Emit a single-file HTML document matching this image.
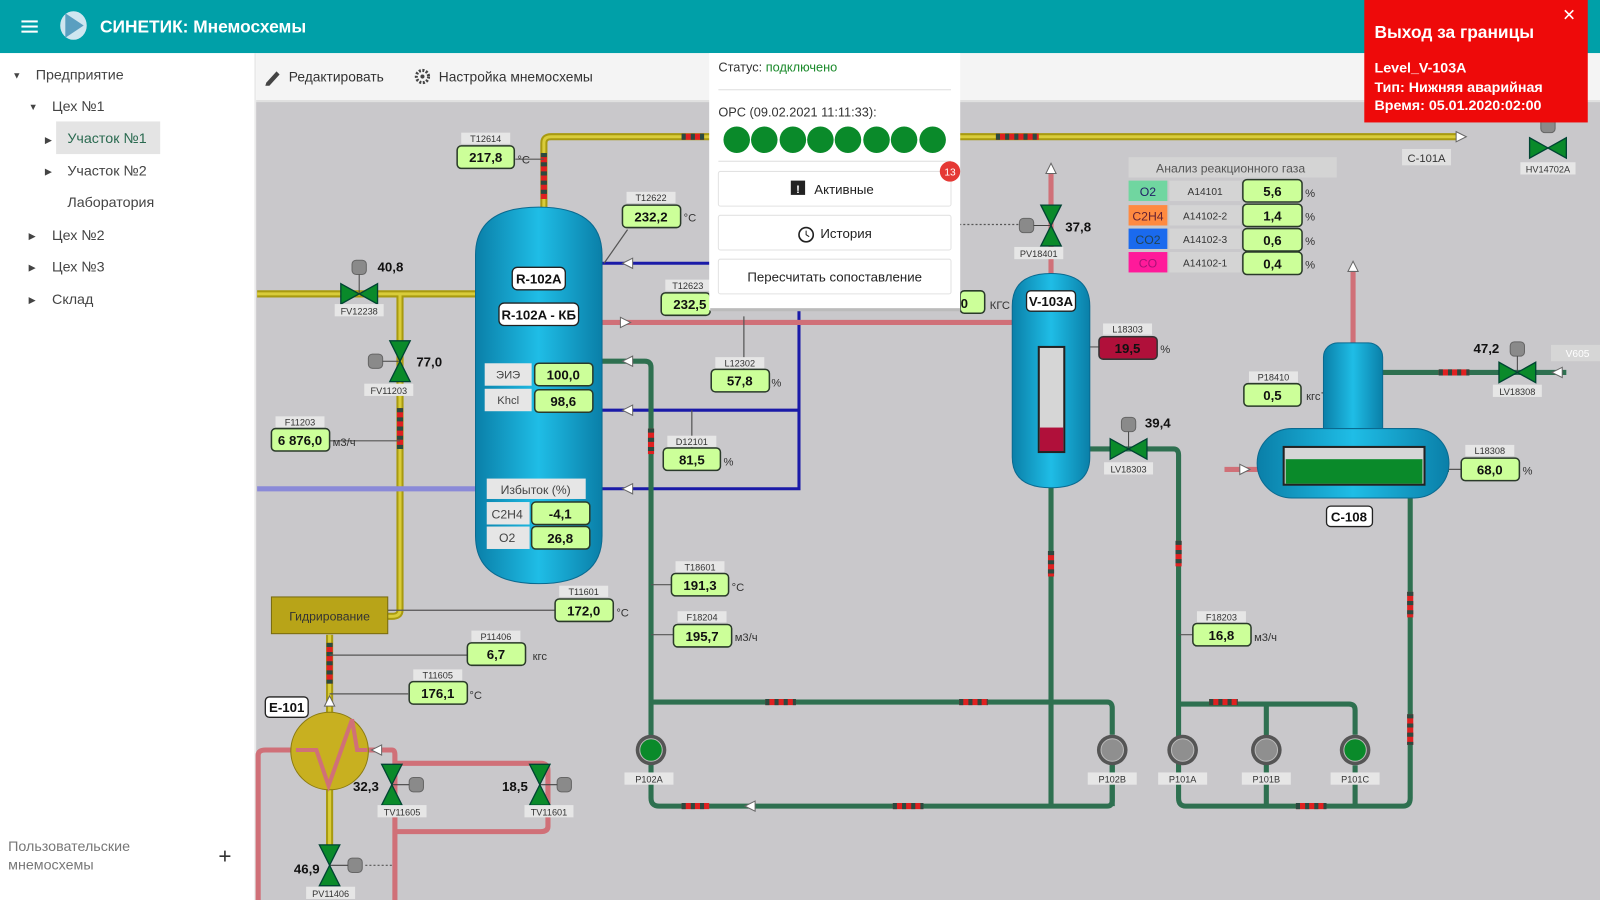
<!DOCTYPE html>
<html><head><meta charset="utf-8"><style>
html,body{margin:0;padding:0;width:1600px;height:900px;overflow:hidden;background:#fff}
svg{display:block}
text{font-family:"Liberation Sans","DejaVu Sans",sans-serif}
.v{fill:#ccff99;stroke:#2a3a2a;stroke-width:1.5}
.vt{font-size:13px;font-weight:bold;fill:#111;text-anchor:middle}
.tg{fill:#e6e6e6}
.tt{font-size:9px;fill:#333;text-anchor:middle}
.u{font-size:11px;fill:#333}
.k{font-size:13px;font-weight:bold;fill:#111}
.lbl{fill:#fff;stroke:#222;stroke-width:1.3}
.lt{font-size:13px;font-weight:bold;fill:#111;text-anchor:middle}
.sb{font-size:14px;fill:#444}
</style></head><body>
<svg width="1600" height="900" viewBox="0 0 1568 882" preserveAspectRatio="none">
<defs>
<linearGradient id="tank" x1="0" x2="1" y1="0" y2="0"><stop offset="0" stop-color="#0a7fa8"/><stop offset="0.5" stop-color="#1fbde6"/><stop offset="1" stop-color="#0a7fa8"/></linearGradient>
<g id="vh"><polygon points="-18,-10 0,0 -18,10" fill="#0a8a2a" stroke="#043" stroke-width="1.3"/><polygon points="18,-10 0,0 18,10" fill="#0a8a2a" stroke="#043" stroke-width="1.3"/></g>
<g id="vv"><polygon points="-10,-20 10,-20 0,0" fill="#0a8a2a" stroke="#043" stroke-width="1.3"/><polygon points="-10,20 10,20 0,0" fill="#0a8a2a" stroke="#043" stroke-width="1.3"/></g>
<g id="act"><rect x="-7" y="-7" width="14" height="14" rx="4" fill="#8a8a8a" stroke="#666"/></g>
<g id="pg"><circle r="15" fill="#555"/><circle r="11" fill="#8f8f8f" stroke="#bbb"/></g>
<g id="pgr"><circle r="15" fill="#555"/><circle r="11" fill="#0a8a2a" stroke="#bbb"/></g>
<g id="ar"><polygon points="-5,-5 5,0 -5,5" fill="#fff" stroke="#666"/></g>
<g id="al"><polygon points="5,-5 -5,0 5,5" fill="#fff" stroke="#666"/></g>
</defs>

<rect width="1568" height="882" fill="#fff"/>
<rect x="251" y="100" width="1317" height="782" fill="#c9c8cb"/>
<rect x="251" y="52" width="1317" height="48" fill="#f4f4f4"/>
<line x1="251" y1="99" x2="1568" y2="99" stroke="#ccc"/>
<rect x="0" y="0" width="1568" height="52" fill="#00a0a8"/>
<line x1="250" y1="52" x2="250" y2="882" stroke="#ddd"/>

<g fill="#fff"><rect x="21" y="20" width="16" height="2"/><rect x="21" y="25" width="16" height="2"/><rect x="21" y="30" width="16" height="2"/></g>
<ellipse cx="72" cy="25" rx="13" ry="14" fill="#cfe6f0"/><path d="M64 13 L82 25 L64 37 Z" fill="#5a9fc0"/>
<text x="98" y="32" font-size="17" font-weight="bold" fill="#fff">СИНЕТИК: Мнемосхемы</text>

<rect x="55" y="119" width="102" height="32" fill="#e4e4e4"/>
<g class="sb">
<text x="12" y="77" font-size="9">▼</text><text x="35" y="78">Предприятие</text>
<text x="28" y="108" font-size="9">▼</text><text x="51" y="109">Цех №1</text>
<text x="44" y="140" font-size="9">▶</text><text x="66" y="140" fill="#2a6a50">Участок №1</text>
<text x="44" y="171" font-size="9">▶</text><text x="66" y="172">Участок №2</text>
<text x="66" y="203">Лаборатория</text>
<text x="28" y="234" font-size="9">▶</text><text x="51" y="235">Цех №2</text>
<text x="28" y="265" font-size="9">▶</text><text x="51" y="266">Цех №3</text>
<text x="28" y="297" font-size="9">▶</text><text x="51" y="298">Склад</text>
<text x="8" y="834" fill="#777">Пользовательские</text><text x="8" y="852" fill="#777">мнемосхемы</text>
<text x="214" y="846" font-size="22" fill="#333">+</text>
</g>

<path d="M261 81 L271 70 L274 73 L264 84 L260 84 Z" fill="#444"/>
<text x="283" y="80" font-size="13.5" fill="#333">Редактировать</text>
<circle cx="414" cy="75" r="6" fill="none" stroke="#444" stroke-width="3" stroke-dasharray="2 1.5"/><circle cx="414" cy="75" r="2" fill="#444"/>
<text x="430" y="80" font-size="13.5" fill="#333">Настройка мнемосхемы</text>

<g fill="none" stroke-linecap="butt">
<g stroke="#a89a10" stroke-width="7"><path d="M533 205 V140 Q533 134 540 134 H1430"/><path d="M252 288 H466"/><path d="M392 288 V598 Q392 604 384 604 H380"/><path d="M323 622 V700"/><path d="M323 770 V835"/></g>
<g stroke="#d9cc3a" stroke-width="3"><path d="M533 205 V140 Q533 134 540 134 H1430"/><path d="M252 288 H466"/><path d="M392 288 V598 Q392 604 384 604 H380"/><path d="M323 622 V700"/><path d="M323 770 V835"/></g>
<path d="M252 479 H466" stroke="#8a8ad8" stroke-width="5"/>
<g stroke="#1a1aa8" stroke-width="3"><path d="M590 258 H783 V479 H590"/><path d="M590 402 H783"/></g>
<g stroke="#d07078" stroke-width="5"><path d="M590 316 H992"/><path d="M1030 165 V272"/><path d="M1326 265 V340"/><path d="M1200 460 H1235"/><path d="M253 882 V740 Q253 735 260 735 H290"/><path d="M355 735 H384 Q387 735 387 740 V882"/><path d="M387 748 H530 Q537 748 537 755 V810 Q537 815 530 815 H387"/></g>
<g stroke="#2e7050" stroke-width="5"><path d="M590 354 H632 Q638 354 638 360 V782 Q638 790 646 790 H1085 Q1090 790 1090 784 V735"/><path d="M638 688 H1085 Q1090 688 1090 694 V720"/><path d="M1030 478 V790"/><path d="M1068 440 H1150 Q1155 440 1155 446 V782 Q1155 790 1162 790 H1375 Q1382 790 1382 782 V460 H1420"/><path d="M1155 690 H1322 Q1328 690 1328 696 V720"/><path d="M1241 690 V790"/><path d="M1328 750 V790"/><path d="M1090 750 V790"/><path d="M1355 365 H1535"/></g>
<g stroke="#e02020" stroke-width="6"><path d="M668 134 H690 M976 134 H1018"/><path d="M533 150 V195"/><path d="M392 400 V440"/><path d="M638 420 V445"/><path d="M323 630 V670"/><path d="M1030 540 V565 M1155 530 V555 M1382 580 V605 M1382 700 V730"/><path d="M750 688 H780 M940 688 H968 M1185 688 H1213 M668 790 H695 M875 790 H905 M1270 790 H1300"/><path d="M1410 365 H1440"/></g>
<g stroke="#2b4a40" stroke-width="6" stroke-dasharray="4 5"><path d="M668 134 H690 M976 134 H1018"/><path d="M533 150 V195"/><path d="M392 400 V440"/><path d="M638 420 V445"/><path d="M323 630 V670"/><path d="M1030 540 V565 M1155 530 V555 M1382 580 V605 M1382 700 V730"/><path d="M750 688 H780 M940 688 H968 M1185 688 H1213 M668 790 H695 M875 790 H905 M1270 790 H1300"/><path d="M1410 365 H1440"/></g>
<g stroke="#555" stroke-width="1.2"><path d="M505 156 H533"/><path d="M592 258 L615 225"/><path d="M323 432 H392"/><path d="M729 310 V365 M678 402 V440"/><path d="M380 598 H545"/><path d="M323 642 H460"/><path d="M323 680 H400"/><path d="M638 573 H658 M638 622 H660"/><path d="M1068 340 H1078 M1155 622 H1170 M1295 385 H1306 M1420 460 H1432"/><path d="M940 220 H1000" stroke-dasharray="2 2"/><path d="M358 848 H385" stroke-dasharray="2 2"/></g>
</g>
<use href="#al" x="615" y="258"/><use href="#ar" x="613" y="316"/><use href="#al" x="615" y="354"/><use href="#al" x="615" y="402"/><use href="#al" x="615" y="479"/>
<use href="#ar" x="1432" y="134"/><use href="#al" x="735" y="790"/><use href="#ar" x="1220" y="460"/><use href="#al" x="1526" y="365"/><use href="#al" x="369" y="735"/>
<polygon points="1025,170 1030,160 1035,170" fill="#fff" stroke="#666"/><polygon points="1321,266 1326,256 1331,266" fill="#fff" stroke="#666"/><polygon points="318,692 323,682 328,692" fill="#fff" stroke="#666"/>

<path d="M466 250 Q466 203 528 203 Q590 203 590 250 V525 Q590 572 528 572 Q466 572 466 525 Z" fill="url(#tank)" stroke="#0a6a90"/>
<rect x="502" y="262" width="52" height="22" rx="5" class="lbl"/><text x="528" y="278" class="lt">R-102A</text>
<rect x="489" y="297" width="78" height="22" rx="5" class="lbl"/><text x="528" y="313" class="lt">R-102A - КБ</text>
<rect x="475" y="356" width="46" height="22" fill="#e6e6e6"/><text x="498" y="371" font-size="11" fill="#444" text-anchor="middle">ЭИЭ</text>
<rect x="524" y="356" width="57" height="22" rx="4" class="v"/><text x="552" y="372" class="vt">100,0</text>
<rect x="475" y="381" width="46" height="22" fill="#e6e6e6"/><text x="498" y="396" font-size="11" fill="#444" text-anchor="middle">Khcl</text>
<rect x="524" y="382" width="57" height="22" rx="4" class="v"/><text x="552" y="398" class="vt">98,6</text>
<rect x="477" y="469" width="97" height="20" fill="#e6e6e6"/><text x="525" y="484" font-size="12" fill="#444" text-anchor="middle">Избыток (%)</text>
<rect x="477" y="492" width="42" height="22" fill="#e6e6e6"/><text x="497" y="508" font-size="12" fill="#444" text-anchor="middle">C2H4</text>
<rect x="521" y="492" width="57" height="22" rx="4" class="v"/><text x="549" y="508" class="vt">-4,1</text>
<rect x="477" y="516" width="42" height="22" fill="#e6e6e6"/><text x="497" y="531" font-size="12" fill="#444" text-anchor="middle">O2</text>
<rect x="521" y="516" width="57" height="22" rx="4" class="v"/><text x="549" y="532" class="vt">26,8</text>

<path d="M992 300 Q992 268 1030 268 Q1068 268 1068 300 V448 Q1068 478 1030 478 Q992 478 992 448 Z" fill="url(#tank)" stroke="#0a6a90"/>
<rect x="1006" y="285" width="48" height="20" rx="4" class="lbl"/><text x="1030" y="300" class="lt">V-103A</text>
<rect x="1018" y="340" width="25" height="103" fill="#d6d6d6" stroke="#222" stroke-width="2"/><rect x="1019" y="419" width="23" height="23" fill="#b0103a"/>

<rect x="1297" y="336" width="58" height="100" rx="14" fill="url(#tank)" stroke="#0a6a90"/>
<rect x="1232" y="420" width="188" height="68" rx="34" fill="url(#tank)" stroke="#0a6a90"/>
<rect x="1258" y="438" width="138" height="37" fill="#d6d6d6" stroke="#222" stroke-width="2"/><rect x="1260" y="450" width="134" height="24" fill="#0a8a2a"/>
<rect x="1300" y="496" width="45" height="20" rx="4" class="lbl"/><text x="1322" y="511" class="lt">C-108</text>

<rect x="266" y="585" width="114" height="36" fill="#b8a418" stroke="#776a10"/><text x="323" y="608" font-size="12" fill="#333" text-anchor="middle">Гидрирование</text>
<rect x="260" y="683" width="42" height="20" rx="4" class="lbl"/><text x="281" y="698" class="lt">E-101</text>
<circle cx="323" cy="736" r="38" fill="#c8b020" stroke="#8a7a10"/>
<path d="M290 735 L310 735 L322 770 L345 705 L350 735 L360 735" fill="none" stroke="#d07078" stroke-width="4"/>

<use href="#act" x="352" y="262"/><line x1="352" y1="269" x2="352" y2="288" stroke="#444"/><use href="#vh" x="352" y="288"/>
<text x="370" y="266" class="k">40,8</text><rect x="328" y="298" width="48" height="12" class="tg"/><text x="352" y="308" class="tt">FV12238</text>
<use href="#act" x="368" y="354"/><line x1="375" y1="354" x2="392" y2="354" stroke="#444"/><use href="#vv" x="392" y="354"/>
<text x="408" y="359" class="k">77,0</text><rect x="357" y="376" width="48" height="12" class="tg"/><text x="381" y="386" class="tt">FV11203</text>
<use href="#act" x="1006" y="221"/><line x1="1013" y1="221" x2="1030" y2="221" stroke="#444"/><use href="#vv" x="1030" y="221"/>
<text x="1044" y="227" class="k">37,8</text><rect x="994" y="242" width="48" height="12" class="tg"/><text x="1018" y="252" class="tt">PV18401</text>
<use href="#act" x="1106" y="416"/><line x1="1106" y1="423" x2="1106" y2="440" stroke="#444"/><use href="#vh" x="1106" y="440"/>
<text x="1122" y="419" class="k">39,4</text><rect x="1082" y="453" width="48" height="12" class="tg"/><text x="1106" y="463" class="tt">LV18303</text>
<use href="#act" x="1487" y="342"/><line x1="1487" y1="349" x2="1487" y2="365" stroke="#444"/><use href="#vh" x="1487" y="365"/>
<text x="1444" y="346" class="k">47,2</text><rect x="1463" y="377" width="48" height="12" class="tg"/><text x="1487" y="387" class="tt">LV18308</text>
<use href="#act" x="1517" y="123"/><use href="#vh" x="1517" y="145"/><rect x="1490" y="159" width="54" height="12" class="tg"/><text x="1517" y="169" class="tt">HV14702A</text>
<use href="#act" x="408" y="769"/><line x1="384" y1="769" x2="401" y2="769" stroke="#444"/><use href="#vv" x="384" y="769"/>
<text x="346" y="775" class="k">32,3</text><rect x="370" y="789" width="48" height="12" class="tg"/><text x="394" y="799" class="tt">TV11605</text>
<use href="#act" x="553" y="769"/><line x1="529" y1="769" x2="546" y2="769" stroke="#444"/><use href="#vv" x="529" y="769"/>
<text x="492" y="775" class="k">18,5</text><rect x="514" y="789" width="48" height="12" class="tg"/><text x="538" y="799" class="tt">TV11601</text>
<use href="#act" x="348" y="848"/><line x1="323" y1="848" x2="341" y2="848" stroke="#444"/><use href="#vv" x="323" y="848"/>
<text x="288" y="856" class="k">46,9</text><rect x="300" y="869" width="48" height="12" class="tg"/><text x="324" y="879" class="tt">PV11406</text>
<rect x="1520" y="338" width="48" height="16" fill="#d6d6d6"/><text x="1546" y="350" font-size="10" fill="#fff" text-anchor="middle">V605</text>
<rect x="1374" y="146" width="48" height="16" fill="#e0e0e0"/><text x="1398" y="159" font-size="11" fill="#333" text-anchor="middle">C-101A</text>

<use href="#pgr" x="638" y="735"/><rect x="612" y="757" width="48" height="12" class="tg"/><text x="636" y="767" class="tt">P102A</text>
<use href="#pg" x="1090" y="735"/><rect x="1066" y="757" width="48" height="12" class="tg"/><text x="1090" y="767" class="tt">P102B</text>
<use href="#pg" x="1159" y="735"/><rect x="1135" y="757" width="48" height="12" class="tg"/><text x="1159" y="767" class="tt">P101A</text>
<use href="#pg" x="1241" y="735"/><rect x="1217" y="757" width="48" height="12" class="tg"/><text x="1241" y="767" class="tt">P101B</text>
<use href="#pgr" x="1328" y="735"/><rect x="1304" y="757" width="48" height="12" class="tg"/><text x="1328" y="767" class="tt">P101C</text>

<g>
<rect x="452" y="130" width="48" height="11" class="tg"/><text x="476" y="139" class="tt">T12614</text><rect x="448" y="143" width="56" height="22" rx="4" class="v"/><text x="476" y="159" class="vt">217,8</text><text x="507" y="160" class="u">°C</text>
<rect x="614" y="188" width="48" height="11" class="tg"/><text x="638" y="197" class="tt">T12622</text><rect x="610" y="201" width="57" height="22" rx="4" class="v"/><text x="638" y="217" class="vt">232,2</text><text x="670" y="217" class="u">°C</text>
<rect x="652" y="274" width="44" height="11" class="tg"/><text x="674" y="283" class="tt">T12623</text><rect x="648" y="287" width="48" height="22" rx="4" class="v"/><text x="676" y="303" class="vt">232,5</text>
<rect x="701" y="350" width="48" height="11" class="tg"/><text x="725" y="359" class="tt">L12302</text><rect x="697" y="362" width="57" height="22" rx="4" class="v"/><text x="725" y="378" class="vt">57,8</text><text x="756" y="379" class="u">%</text>
<rect x="654" y="427" width="48" height="11" class="tg"/><text x="678" y="436" class="tt">D12101</text><rect x="650" y="439" width="56" height="22" rx="4" class="v"/><text x="678" y="455" class="vt">81,5</text><text x="709" y="456" class="u">%</text>
<rect x="270" y="408" width="48" height="11" class="tg"/><text x="294" y="417" class="tt">F11203</text><rect x="266" y="420" width="57" height="22" rx="4" class="v"/><text x="294" y="436" class="vt">6 876,0</text><text x="326" y="437" class="u">м3/ч</text>
<rect x="662" y="550" width="48" height="11" class="tg"/><text x="686" y="559" class="tt">T18601</text><rect x="658" y="562" width="56" height="22" rx="4" class="v"/><text x="686" y="578" class="vt">191,3</text><text x="717" y="579" class="u">°C</text>
<rect x="548" y="574" width="48" height="11" class="tg"/><text x="572" y="583" class="tt">T11601</text><rect x="544" y="587" width="57" height="22" rx="4" class="v"/><text x="572" y="603" class="vt">172,0</text><text x="604" y="604" class="u">°C</text>
<rect x="664" y="599" width="48" height="11" class="tg"/><text x="688" y="608" class="tt">F18204</text><rect x="660" y="612" width="57" height="22" rx="4" class="v"/><text x="688" y="628" class="vt">195,7</text><text x="720" y="628" class="u">м3/ч</text>
<rect x="462" y="618" width="48" height="11" class="tg"/><text x="486" y="627" class="tt">P11406</text><rect x="458" y="630" width="57" height="22" rx="4" class="v"/><text x="486" y="646" class="vt">6,7</text><text x="522" y="647" class="u">кгс</text>
<rect x="405" y="656" width="48" height="11" class="tg"/><text x="429" y="665" class="tt">T11605</text><rect x="401" y="668" width="57" height="22" rx="4" class="v"/><text x="429" y="684" class="vt">176,1</text><text x="460" y="685" class="u">°C</text>
<rect x="1081" y="317" width="48" height="11" class="tg"/><text x="1105" y="326" class="tt">L18303</text><rect x="1077" y="330" width="57" height="22" rx="4" fill="#b0103a" stroke="#333" stroke-width="1.5"/><text x="1105" y="346" class="vt">19,5</text><text x="1137" y="346" class="u">%</text>
<rect x="1224" y="364" width="48" height="11" class="tg"/><text x="1248" y="373" class="tt">P18410</text><rect x="1219" y="376" width="56" height="22" rx="4" class="v"/><text x="1247" y="392" class="vt">0,5</text><text x="1280" y="392" class="u">кгс</text>
<rect x="1436" y="436" width="48" height="11" class="tg"/><text x="1460" y="445" class="tt">L18308</text><rect x="1432" y="449" width="57" height="22" rx="4" class="v"/><text x="1460" y="465" class="vt">68,0</text><text x="1492" y="465" class="u">%</text>
<rect x="1173" y="599" width="48" height="11" class="tg"/><text x="1197" y="608" class="tt">F18203</text><rect x="1169" y="611" width="57" height="22" rx="4" class="v"/><text x="1197" y="627" class="vt">16,8</text><text x="1229" y="628" class="u">м3/ч</text>
<rect x="941" y="285" width="24" height="22" rx="4" class="v"/><text x="945" y="302" class="vt">0</text><text x="970" y="303" class="u" font-size="10">КГС</text>
</g>

<rect x="1106" y="154" width="204" height="20" fill="#d4d4d4"/><text x="1206" y="169" font-size="12" fill="#555" text-anchor="middle">Анализ реакционного газа</text>
<rect x="1106" y="177" width="38" height="20" fill="#70d6a0"/><text x="1125" y="192" font-size="12" fill="#226" text-anchor="middle">O2</text>
<rect x="1106" y="201" width="38" height="20" fill="#ff8a40"/><text x="1125" y="216" font-size="12" fill="#623" text-anchor="middle">C2H4</text>
<rect x="1106" y="224" width="38" height="20" fill="#1a6aee"/><text x="1125" y="239" font-size="12" fill="#245" text-anchor="middle">CO2</text>
<rect x="1106" y="247" width="38" height="20" fill="#ff1a9a"/><text x="1125" y="262" font-size="12" fill="#a17" text-anchor="middle">CO</text>
<g font-size="10" fill="#333" text-anchor="middle"><rect x="1146" y="177" width="70" height="20" fill="#d4d4d4"/><text x="1181" y="191">A14101</text><rect x="1146" y="201" width="70" height="20" fill="#d4d4d4"/><text x="1181" y="215">A14102-2</text><rect x="1146" y="224" width="70" height="20" fill="#d4d4d4"/><text x="1181" y="238">A14102-3</text><rect x="1146" y="247" width="70" height="20" fill="#d4d4d4"/><text x="1181" y="261">A14102-1</text></g>
<rect x="1218" y="176" width="58" height="22" rx="4" class="v"/><text x="1247" y="192" class="vt">5,6</text><text x="1279" y="193" class="u">%</text>
<rect x="1218" y="200" width="58" height="22" rx="4" class="v"/><text x="1247" y="216" class="vt">1,4</text><text x="1279" y="216" class="u">%</text>
<rect x="1218" y="224" width="58" height="22" rx="4" class="v"/><text x="1247" y="240" class="vt">0,6</text><text x="1279" y="240" class="u">%</text>
<rect x="1218" y="247" width="58" height="22" rx="4" class="v"/><text x="1247" y="263" class="vt">0,4</text><text x="1279" y="263" class="u">%</text>

<rect x="695" y="52" width="246" height="252" fill="#fff"/>
<rect x="696" y="302" width="245" height="3" fill="#bbb"/>
<text x="704" y="70" font-size="12.5" fill="#333">Статус: <tspan fill="#1a8a2a">подключено</tspan></text>
<line x1="704" y1="88" x2="932" y2="88" stroke="#ddd"/>
<text x="704" y="114" font-size="12.5" fill="#333">OPC (09.02.2021 11:11:33):</text>
<g fill="#0a8a2a"><circle cx="722" cy="137" r="13"/><circle cx="749" cy="137" r="13"/><circle cx="777" cy="137" r="13"/><circle cx="804" cy="137" r="13"/><circle cx="831" cy="137" r="13"/><circle cx="859" cy="137" r="13"/><circle cx="886" cy="137" r="13"/><circle cx="914" cy="137" r="13"/></g>
<line x1="704" y1="158" x2="932" y2="158" stroke="#ddd"/>
<g fill="#fff" stroke="#e2e2e2"><rect x="704" y="168" width="228" height="34" rx="2"/><rect x="704" y="211" width="228" height="34" rx="2"/><rect x="704" y="254" width="228" height="34" rx="2"/></g>
<rect x="775" y="177" width="14" height="14" fill="#222"/><text x="782" y="189" font-size="11" font-weight="bold" fill="#fff" text-anchor="middle">!</text>
<text x="798" y="190" font-size="13" fill="#222">Активные</text>
<circle cx="790" cy="230" r="7" fill="none" stroke="#222" stroke-width="1.6"/><path d="M790 226 V230 L793 232" stroke="#222" fill="none"/>
<text x="804" y="233" font-size="13" fill="#222">История</text>
<text x="818" y="276" font-size="13" fill="#222" text-anchor="middle">Пересчитать сопоставление</text>
<circle cx="931" cy="168" r="10" fill="#e53935"/><text x="931" y="172" font-size="10" fill="#fff" text-anchor="middle">13</text>

<rect x="1337" y="0" width="219" height="120" fill="#ee0a0a"/>
<text x="1347" y="37" font-size="17" font-weight="bold" fill="#fff">Выход за границы</text>
<text x="1531" y="20" font-size="16" font-weight="bold" fill="#fff">✕</text>
<text x="1347" y="71" font-size="14" font-weight="bold" fill="#fff">Level_V-103A</text>
<text x="1347" y="90" font-size="14" font-weight="bold" fill="#fff">Тип: Нижняя аварийная</text>
<text x="1347" y="108" font-size="14" font-weight="bold" fill="#fff">Время: 05.01.2020:02:00</text>
</svg>
</body></html>
